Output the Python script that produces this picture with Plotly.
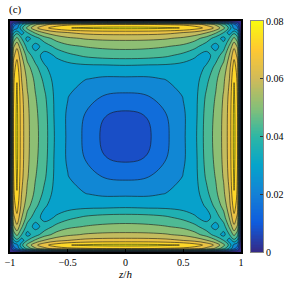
import plotly.graph_objects as go

# half-axis coordinates (|z| or |y|), field is symmetric in both axes and the diagonal
half_coords = [0, 0.2, 0.35, 0.5, 0.6, 0.7, 0.78, 0.85, 0.9, 0.94, 0.97, 0.99, 1.0]

# quarter field values: rows = |y|, cols = |z|
quarter = [
    [0.0108, 0.0124, 0.0187, 0.0257, 0.0315, 0.0430, 0.0485, 0.0550, 0.0630, 0.0755, 0.0670, 0.0300, 0],
    [0.0124, 0.0138, 0.0200, 0.0258, 0.0310, 0.0425, 0.0480, 0.0548, 0.0628, 0.0752, 0.0668, 0.0300, 0],
    [0.0187, 0.0200, 0.0220, 0.0270, 0.0310, 0.0410, 0.0470, 0.0540, 0.0620, 0.0745, 0.0660, 0.0298, 0],
    [0.0257, 0.0258, 0.0270, 0.0285, 0.0300, 0.0380, 0.0450, 0.0520, 0.0600, 0.0730, 0.0650, 0.0290, 0],
    [0.0315, 0.0310, 0.0310, 0.0300, 0.0305, 0.0340, 0.0420, 0.0490, 0.0580, 0.0700, 0.0630, 0.0280, 0],
    [0.0430, 0.0425, 0.0410, 0.0380, 0.0340, 0.0310, 0.0360, 0.0440, 0.0540, 0.0650, 0.0580, 0.0260, 0],
    [0.0485, 0.0480, 0.0470, 0.0450, 0.0420, 0.0360, 0.0310, 0.0370, 0.0480, 0.0585, 0.0520, 0.0230, 0],
    [0.0550, 0.0548, 0.0540, 0.0520, 0.0490, 0.0440, 0.0370, 0.0310, 0.0400, 0.0485, 0.0420, 0.0190, 0],
    [0.0630, 0.0628, 0.0620, 0.0600, 0.0580, 0.0540, 0.0480, 0.0400, 0.0290, 0.0380, 0.0320, 0.0140, 0],
    [0.0755, 0.0752, 0.0745, 0.0730, 0.0700, 0.0650, 0.0585, 0.0485, 0.0380, 0.0240, 0.0220, 0.0080, 0],
    [0.0670, 0.0668, 0.0660, 0.0650, 0.0630, 0.0580, 0.0520, 0.0420, 0.0320, 0.0220, 0.0150, 0.0060, 0],
    [0.0300, 0.0300, 0.0298, 0.0290, 0.0280, 0.0260, 0.0230, 0.0190, 0.0140, 0.0080, 0.0060, 0.0030, 0],
    [0, 0, 0, 0, 0, 0, 0, 0, 0, 0, 0, 0, 0],
]

x_ticks = [-1, -0.5, 0, 0.5, 1]
x_ticklabels = ["\u22121", "\u22120.5", "0", "0.5", "1"]
cb_ticks = [0, 0.02, 0.04, 0.06, 0.08]
cb_ticklabels = ["0", "0.02", "0.04", "0.06", "0.08"]
z_min, z_max = 0.0, 0.08
n_levels = 12

parula = [
    [0.0, "#352a87"], [0.125, "#0f5cdd"], [0.25, "#1481d6"], [0.375, "#06a4ca"],
    [0.5, "#2eb7a4"], [0.625, "#87bf77"], [0.75, "#d1bb59"], [0.875, "#fec832"],
    [1.0, "#f9fb0e"],
]

# mirror the quarter into the full square
n = len(half_coords)
coords = [-c for c in reversed(half_coords[1:])] + half_coords
idx = [abs(k - (n - 1)) for k in range(2 * n - 1)]
field = [[quarter[idx[i]][idx[j]] for j in range(len(coords))] for i in range(len(coords))]

step = (z_max - z_min) / n_levels
FONT = "Liberation Serif, Times New Roman, serif"
FS = 10

# colour-bar gradient samples (scale of the bar, not data)
n_cb = 161
cb_vals = [z_min + (z_max - z_min) * k / (n_cb - 1) for k in range(n_cb)]

W, H = 287, 281
ML, MR, MT, MB = 10, 23, 21, 29
pw = W - ML - MR
main_dom = [0, (241 - ML) / pw]
cb_dom = [(251 - ML) / pw, (263 - ML) / pw]

fig = go.Figure()
fig.add_trace(go.Contour(
    x=coords, y=coords, z=field,
    colorscale=parula, zmin=z_min, zmax=z_max, zauto=False,
    contours=dict(start=z_min + step, end=z_max - step, size=step, coloring="fill"),
    line=dict(color="#1a1a1a", width=0.6, smoothing=1),
    showscale=False, hoverinfo="skip",
))
fig.add_trace(go.Heatmap(
    x=[0], y=cb_vals, z=[[v] for v in cb_vals],
    colorscale=parula, zmin=z_min, zmax=z_max, showscale=False,
    xaxis="x2", yaxis="y2", hoverinfo="skip",
))

fig.update_layout(
    width=W, height=H,
    margin=dict(l=ML, r=MR, t=MT, b=MB),
    paper_bgcolor="white", plot_bgcolor="white",
    font=dict(family=FONT, size=FS, color="black"),
    showlegend=False,
    xaxis=dict(domain=main_dom, range=[-1, 1], tickvals=x_ticks, ticktext=x_ticklabels,
               showline=True, mirror=True, linecolor="black", linewidth=1.5,
               ticks="inside", ticklen=3, tickcolor="black", showgrid=False, zeroline=False,
               automargin=False,
               title=dict(text="<i>z</i>/<i>h</i>", standoff=0, font=dict(family=FONT, size=FS + 1)),
               tickfont=dict(family=FONT, size=FS)),
    yaxis=dict(range=[-1, 1], showticklabels=False, automargin=False,
               showline=True, mirror=True, linecolor="black", linewidth=1.5,
               ticks="", showgrid=False, zeroline=False),
    xaxis2=dict(domain=cb_dom, anchor="y2", range=[-0.5, 0.5], showticklabels=False,
                ticks="", showgrid=False, zeroline=False, showline=True, mirror=True,
                linecolor="#888888", linewidth=1, automargin=False, fixedrange=True),
    yaxis2=dict(domain=[0, 1], anchor="x2", side="right", range=[z_min, z_max],
                tickvals=cb_ticks, ticktext=cb_ticklabels, ticks="inside", ticklen=3,
                tickcolor="#333333", showgrid=False, zeroline=False, showline=True,
                mirror=True, linecolor="#888888", linewidth=1, automargin=False,
                tickfont=dict(family=FONT, size=FS), fixedrange=True),
    annotations=[dict(text="(c)", xref="paper", yref="paper", x=-0.01, y=1.048,
                      xanchor="left", yanchor="middle", showarrow=False,
                      font=dict(family=FONT, size=FS + 1))],
)

fig.write_html("out.html", config={"displayModeBar": False},
               post_script="document.body.style.margin='0px';")
